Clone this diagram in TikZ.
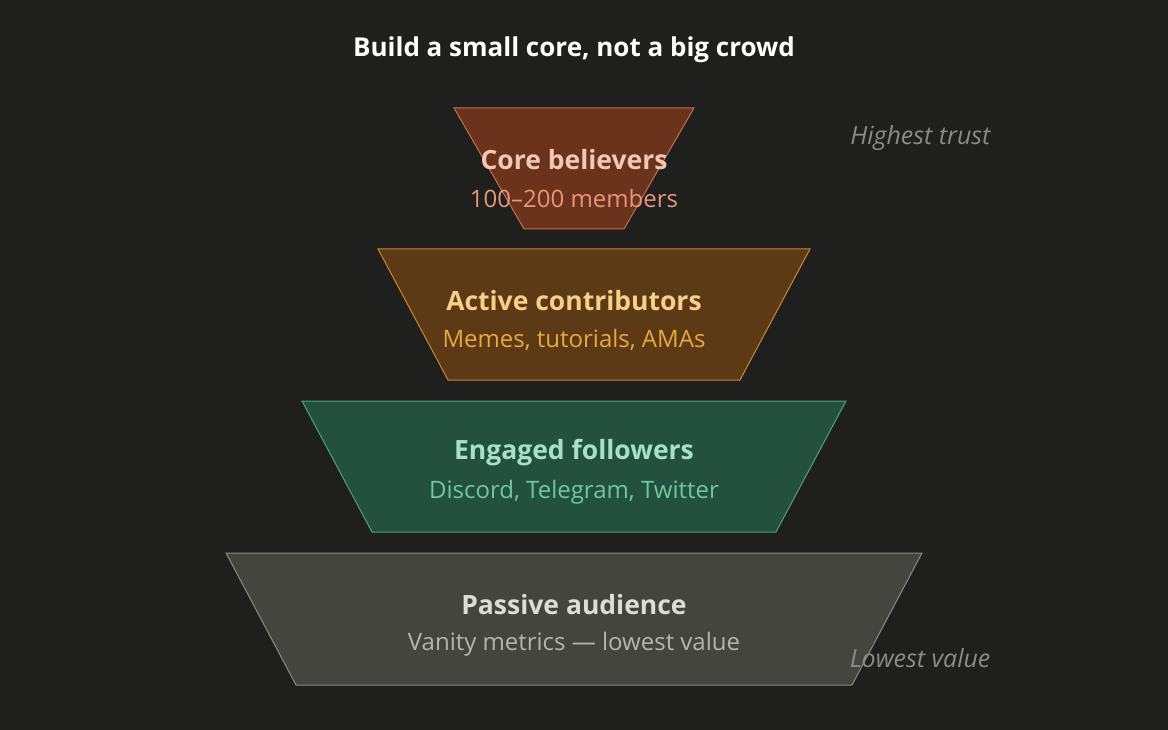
\documentclass[tikz,border=0pt]{standalone}
\usepackage{fontspec}
\setmainfont{Open Sans}
\usetikzlibrary{positioning}

\definecolor{bg}{HTML}{1F1F1E}
\definecolor{fillcore}{HTML}{6B321C}
\definecolor{linecore}{HTML}{C0704F}
\definecolor{headcore}{HTML}{F5C6B2}
\definecolor{subcore}{HTML}{E8957A}
\definecolor{fillactive}{HTML}{5C3A16}
\definecolor{lineactive}{HTML}{C8882E}
\definecolor{headactive}{HTML}{F5D08A}
\definecolor{subactive}{HTML}{E8A740}
\definecolor{fillengaged}{HTML}{23503F}
\definecolor{lineengaged}{HTML}{4FA080}
\definecolor{headengaged}{HTML}{A8E0C8}
\definecolor{subengaged}{HTML}{6EC8A0}
\definecolor{fillpassive}{HTML}{454540}
\definecolor{linepassive}{HTML}{8A8A85}
\definecolor{headpassive}{HTML}{DDDCD5}
\definecolor{subpassive}{HTML}{B5B4AD}
\definecolor{sidenote}{HTML}{8A8A86}

\begin{document}
\begin{tikzpicture}[x=1pt, y=-1pt,
  heading/.style={font=\fontsize{26}{30}\selectfont\bfseries, text=white},
  tiername/.style={font=\fontsize{26.5}{30}\selectfont\bfseries},
  tiersub/.style={font=\fontsize{24}{28}\selectfont},
  sidelabel/.style={font=\fontsize{25}{29}\selectfont\itshape, text=sidenote, anchor=east}]
  \useasboundingbox (0,0) rectangle (1168,730);
  \fill[bg] (0,0) rectangle (1168,730);
  \node[heading] (title) at (574,50) {Build a small core, not a big crowd};
  % tiers: name / top y / height / shape centre x / half top width / label / sub label
  \foreach \n/\yt/\h/\cx/\hw/\ti/\sub in {core/108/121/574/120/Core believers/100--200 members,
      active/249/131/594/216/Active contributors/{Memes, tutorials, AMAs},
      engaged/401/131/574/272/Engaged followers/{Discord, Telegram, Twitter},
      passive/553/132/574/348/Passive audience/Vanity metrics --- lowest value}{
    \draw[fill=fill\n, draw=line\n, line width=1pt]
      (\cx-\hw,\yt) -- (\cx+\hw,\yt) -- (\cx+\hw-70,\yt+\h) -- (\cx-\hw+70,\yt+\h) -- cycle;
    \node[tiername, text=head\n] (\n) at (574,\yt+52) {\ti};
    \node[tiersub, text=sub\n] (\n sub) at (574,\yt+91) {\sub};
  }
  \node[sidelabel] (hightrust) at (994,138) {Highest trust};
  \node[sidelabel] (lowvalue) at (994,658) {Lowest value};
\end{tikzpicture}
\end{document}
